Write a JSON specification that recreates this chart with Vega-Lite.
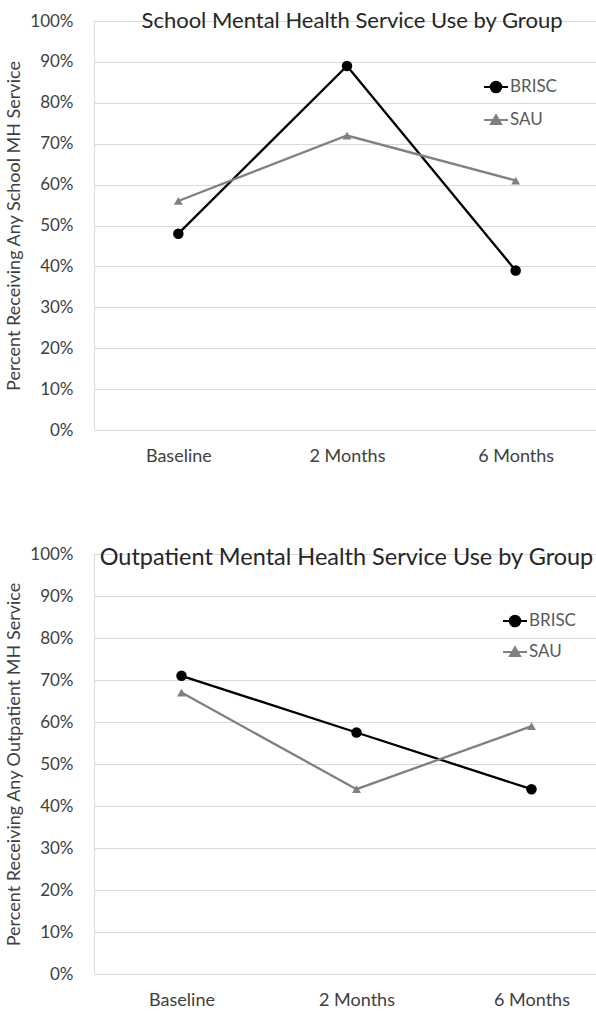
{
  "$schema": "https://vega.github.io/schema/vega-lite/v6.json",
  "padding": {"left": 5, "top": 10, "right": 0, "bottom": 0},
  "spacing": 80,
  "datasets": {
    "school": [
      {"time": "Baseline", "group": "BRISC", "value": 0.48},
      {"time": "2 Months", "group": "BRISC", "value": 0.89},
      {"time": "6 Months", "group": "BRISC", "value": 0.39},
      {"time": "Baseline", "group": "SAU", "value": 0.56},
      {"time": "2 Months", "group": "SAU", "value": 0.72},
      {"time": "6 Months", "group": "SAU", "value": 0.61}
    ],
    "outpatient": [
      {"time": "Baseline", "group": "BRISC", "value": 0.71},
      {"time": "2 Months", "group": "BRISC", "value": 0.575},
      {"time": "6 Months", "group": "BRISC", "value": 0.44},
      {"time": "Baseline", "group": "SAU", "value": 0.67},
      {"time": "2 Months", "group": "SAU", "value": 0.44},
      {"time": "6 Months", "group": "SAU", "value": 0.59}
    ]
  },
  "vconcat": [
    {
      "width": 506,
      "height": 409,
      "data": {"name": "school"},
      "title": {"text": "School Mental Health Service Use by Group", "fontSize": 22, "dy": 25, "dx": 5},
      "encoding": {
        "x": {"field": "time", "type": "nominal", "sort": ["Baseline", "2 Months", "6 Months"], "title": null},
        "y": {"field": "value", "type": "quantitative", "scale": {"domain": [0, 1]}, "axis": {"format": ".0%", "values": [0, 0.1, 0.2, 0.3, 0.4, 0.5, 0.6, 0.7, 0.8, 0.9, 1]}, "title": "Percent Receiving Any School MH Service"},
        "color": {"field": "group", "type": "nominal", "scale": {"domain": ["BRISC", "SAU"], "range": ["#000000", "#808080"]},
          "legend": {"title": null, "orient": "none", "legendX": 389, "legendY": 53, "rowPadding": 10, "labelOffset": 1, "labelFontSize": 17, "labelColor": "#595959", "symbolSize": 576,
            "encode": {"symbols": {"update": {
              "shape": [{"test": "datum.value === 'SAU'", "value": "M-1,0L1,0M0,-0.4L0.42,0.33L-0.42,0.33Z"}, {"value": "M-1,0L1,0M0.44,0A0.44,0.44,0,1,1,-0.44,0A0.44,0.44,0,1,1,0.44,0Z"}],
              "fill": [{"test": "datum.value === 'SAU'", "value": "#808080"}, {"value": "#000000"}],
              "stroke": [{"test": "datum.value === 'SAU'", "value": "#808080"}, {"value": "#000000"}],
              "strokeWidth": {"value": 2},
              "opacity": {"value": 1}
            }}}}}
      },
      "layer": [
        {"mark": {"type": "line", "strokeWidth": 2.3}},
        {
          "mark": {"type": "point", "filled": true, "opacity": 1},
          "encoding": {
            "shape": {"field": "group", "type": "nominal", "scale": {"domain": ["BRISC", "SAU"], "range": ["circle", "triangle-up"]}, "legend": null},
            "size": {"field": "group", "type": "nominal", "scale": {"domain": ["BRISC", "SAU"], "range": [110, 80]}, "legend": null}
          }
        }
      ]
    },
    {
      "width": 525,
      "height": 420,
      "data": {"name": "outpatient"},
      "title": {"text": "Outpatient Mental Health Service Use by Group", "fontSize": 23.5, "dy": 28, "dx": -10},
      "encoding": {
        "x": {"field": "time", "type": "nominal", "sort": ["Baseline", "2 Months", "6 Months"], "title": null},
        "y": {"field": "value", "type": "quantitative", "scale": {"domain": [0, 1]}, "axis": {"format": ".0%", "values": [0, 0.1, 0.2, 0.3, 0.4, 0.5, 0.6, 0.7, 0.8, 0.9, 1]}, "title": "Percent Receiving Any Outpatient MH Service"},
        "color": {"field": "group", "type": "nominal", "scale": {"domain": ["BRISC", "SAU"], "range": ["#000000", "#808080"]},
          "legend": {"title": null, "orient": "none", "legendX": 408, "legendY": 54, "rowPadding": 8, "labelOffset": 1, "labelFontSize": 17, "labelColor": "#595959", "symbolSize": 576,
            "encode": {"symbols": {"update": {
              "shape": [{"test": "datum.value === 'SAU'", "value": "M-1,0L1,0M0,-0.4L0.42,0.33L-0.42,0.33Z"}, {"value": "M-1,0L1,0M0.44,0A0.44,0.44,0,1,1,-0.44,0A0.44,0.44,0,1,1,0.44,0Z"}],
              "fill": [{"test": "datum.value === 'SAU'", "value": "#808080"}, {"value": "#000000"}],
              "stroke": [{"test": "datum.value === 'SAU'", "value": "#808080"}, {"value": "#000000"}],
              "strokeWidth": {"value": 2},
              "opacity": {"value": 1}
            }}}}}
      },
      "layer": [
        {"mark": {"type": "line", "strokeWidth": 2.3}},
        {
          "mark": {"type": "point", "filled": true, "opacity": 1},
          "encoding": {
            "shape": {"field": "group", "type": "nominal", "scale": {"domain": ["BRISC", "SAU"], "range": ["circle", "triangle-up"]}, "legend": null},
            "size": {"field": "group", "type": "nominal", "scale": {"domain": ["BRISC", "SAU"], "range": [110, 80]}, "legend": null}
          }
        }
      ]
    }
  ],
  "resolve": {"legend": {"color": "independent"}},
  "config": {
    "font": "Lato",
    "view": {"stroke": null},
    "title": {"font": "Lato", "fontWeight": "normal", "color": "#262626", "anchor": "middle", "baseline": "middle", "offset": 0},
    "axis": {"labelFont": "Lato", "titleFont": "Lato", "labelColor": "#404040", "titleColor": "#404040", "titleFontWeight": "normal", "ticks": false, "domainColor": "#d9d9d9", "gridColor": "#d9d9d9"},
    "axisX": {"labelAngle": 0, "labelPadding": 17, "grid": false, "domain": false, "labelFontSize": 18},
    "axisY": {"labelPadding": 21, "labelFontSize": 17, "titleFontSize": 18, "titlePadding": 6, "grid": true},
    "legend": {"labelFont": "Lato"}
  }
}
